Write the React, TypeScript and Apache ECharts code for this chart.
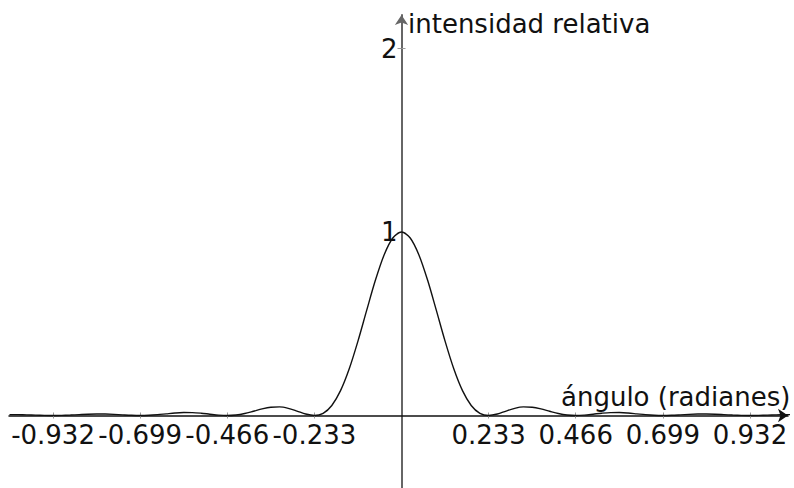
import React, { useEffect, useRef } from "react";
import * as echarts from "echarts";

// Half-curve samples (x >= 0) of relative intensity
const xHalf = [
  0, 0.0233, 0.0466, 0.0699, 0.0932, 0.1165, 0.1398, 0.1631, 0.1864, 0.2097,
  0.233, 0.2563, 0.2796, 0.3029, 0.3262, 0.3495, 0.3728, 0.3961, 0.4194, 0.4427,
  0.466, 0.4893, 0.5126, 0.5359, 0.5592, 0.5825, 0.6058, 0.6291, 0.6524, 0.6757,
  0.699, 0.7223, 0.7456, 0.7689, 0.7922, 0.8155, 0.8388, 0.8621, 0.8854, 0.9087,
  0.932, 0.9553, 0.9786, 1.0019, 1.0252, 1.0485,
];
const yHalf = [
  1, 0.9675, 0.8751, 0.7368, 0.5728, 0.4053, 0.2546, 0.1353, 0.0547, 0.0119,
  0, 0.008, 0.0243, 0.0392, 0.0468, 0.045, 0.0358, 0.023, 0.0108, 0.0027,
  0, 0.0022, 0.0072, 0.0125, 0.0159, 0.0162, 0.0136, 0.0091, 0.0045, 0.0012,
  0, 0.001, 0.0034, 0.0061, 0.0079, 0.0083, 0.0071, 0.0048, 0.0024, 0.0006,
  0, 0.0006, 0.002, 0.0036, 0.0047, 0.005,
];
const xTickValues = [-0.932, -0.699, -0.466, -0.233, 0.233, 0.466, 0.699, 0.932];
const xTickLabels = ["-0.932", "-0.699", "-0.466", "-0.233", "0.233", "0.466", "0.699", "0.932"];
const yTickValues = [1, 2];
const yTickLabels = ["1", "2"];
const yTitle = "intensidad relativa";
const xTitle = "ángulo (radianes)";

const X_MIN = -1.0498;
const X_MAX = 1.0337;
const Y_MIN = -0.3951;
const Y_MAX = 2.1826;

export default function App() {
  const ref = useRef<HTMLDivElement>(null);
  useEffect(() => {
    if (!ref.current) return;
    const chart = echarts.init(ref.current, undefined, { renderer: "svg" });
    const pts: number[][] = [];
    for (let i = xHalf.length - 1; i > 0; i--) pts.push([-xHalf[i], yHalf[i]]);
    for (let i = 0; i < xHalf.length; i++) pts.push([xHalf[i], yHalf[i]]);
    const font = "DejaVu Sans, Verdana, sans-serif";
    const xFmt = (v: number) => {
      const i = xTickValues.findIndex((t) => Math.abs(t - v) < 1e-6);
      return i >= 0 ? xTickLabels[i] : "";
    };
    const yFmt = (v: number) => {
      const i = yTickValues.findIndex((t) => Math.abs(t - v) < 1e-6);
      return i >= 0 ? yTickLabels[i] : "";
    };
    // grid geometry: left 9, right 6, top 15, bottom 0 in a 794x488 box
    const gl = 9, gr = 6, gt = 15, gb = 0;
    const gw = 794 - gl - gr;
    const gh = 488 - gt - gb;
    const zeroXpx = gl + ((0 - X_MIN) / (X_MAX - X_MIN)) * gw;
    const zeroYpx = gt + ((Y_MAX - 0) / (Y_MAX - Y_MIN)) * gh;
    const xOffset = -(488 - gb - zeroYpx);
    const yOffset = -(zeroXpx - gl);
    const tickStyle = { color: "#999", width: 1 };
    chart.setOption({
      animation: false,
      backgroundColor: "#ffffff",
      grid: {
        left: gl,
        right: gr,
        top: gt,
        bottom: gb,
        containLabel: false,
        outerBoundsMode: "none",
      },
      xAxis: [
        {
          type: "value",
          position: "bottom",
          offset: xOffset,
          min: X_MIN,
          max: X_MAX,
          splitLine: { show: false },
          axisLine: {
            onZero: false,
            symbol: ["none", "arrow"],
            symbolSize: [10, 10],
            lineStyle: { color: "#111", width: 1.5 },
          },
          axisTick: { show: true, customValues: xTickValues, length: 3, lineStyle: tickStyle },
          axisLabel: {
            customValues: xTickValues,
            formatter: xFmt,
            fontFamily: font,
            fontSize: 26,
            color: "#111",
            margin: 6,
          },
        },
        {
          type: "value",
          position: "bottom",
          offset: xOffset,
          min: X_MIN,
          max: X_MAX,
          splitLine: { show: false },
          axisLine: { show: false, onZero: false },
          axisTick: {
            show: true,
            inside: true,
            customValues: xTickValues,
            length: 3,
            lineStyle: tickStyle,
          },
          axisLabel: { show: false },
        },
      ],
      yAxis: [
        {
          type: "value",
          position: "left",
          offset: yOffset,
          min: Y_MIN,
          max: Y_MAX,
          splitLine: { show: false },
          axisLine: {
            onZero: false,
            symbol: ["none", "arrow"],
            symbolSize: [10, 10],
            lineStyle: { color: "#666", width: 2 },
          },
          axisTick: { show: true, customValues: yTickValues, length: 4, lineStyle: tickStyle },
          axisLabel: {
            customValues: yTickValues,
            formatter: yFmt,
            fontFamily: font,
            fontSize: 26,
            color: "#111",
            margin: 4,
          },
        },
        {
          type: "value",
          position: "left",
          offset: yOffset,
          min: Y_MIN,
          max: Y_MAX,
          splitLine: { show: false },
          axisLine: { show: false, onZero: false },
          axisTick: {
            show: true,
            inside: true,
            customValues: yTickValues,
            length: 4,
            lineStyle: tickStyle,
          },
          axisLabel: { show: false },
        },
      ],
      series: [
        {
          type: "line",
          data: pts,
          showSymbol: false,
          smooth: 0.3,
          lineStyle: { color: "#111", width: 1.4 },
          z: 3,
        },
      ],
      graphic: [
        {
          type: "text",
          left: 408,
          top: 11,
          style: { text: yTitle, font: `26px ${font}`, fill: "#111" },
        },
        {
          type: "text",
          left: 561,
          top: 384,
          style: { text: xTitle, font: `26px ${font}`, fill: "#111" },
        },
      ],
    });
    return () => chart.dispose();
  }, []);
  return (
    <div
      ref={ref}
      style={{ position: "fixed", left: 0, top: 0, width: 794, height: 488 }}
    />
  );
}
